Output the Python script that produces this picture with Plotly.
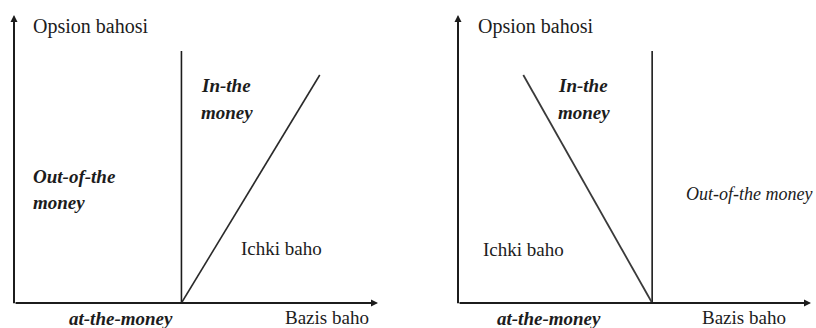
import plotly.graph_objects as go

# ---- data (conceptual units) ----
call_strike = 4.6
call_line_top = 4.2
call_S = [4.6, 8.4]
call_value = [0.0, 3.8]

put_strike = 5.5
put_line_top = 4.2
put_S = [1.85, 5.5]
put_value = [3.8, 0.0]

x_max = 10.0
y_max = 4.8

W, H = 816, 328
FONT = "Liberation Serif"
INK = "#1c1c1c"

def fx(px):
    return px / W

def fy(py):
    return 1 - py / H

fig = go.Figure()

# left panel (call)
fig.add_trace(go.Scatter(x=[call_strike, call_strike], y=[0, call_line_top], mode="lines",
                         line=dict(color=INK, width=1.6), xaxis="x", yaxis="y", hoverinfo="skip"))
fig.add_trace(go.Scatter(x=call_S, y=call_value, mode="lines",
                         line=dict(color="#2a2a2a", width=1.6), xaxis="x", yaxis="y", hoverinfo="skip"))
# right panel (put)
fig.add_trace(go.Scatter(x=[put_strike, put_strike], y=[0, put_line_top], mode="lines",
                         line=dict(color=INK, width=1.6), xaxis="x2", yaxis="y2", hoverinfo="skip"))
fig.add_trace(go.Scatter(x=put_S, y=put_value, mode="lines",
                         line=dict(color="#3a3a3a", width=1.8), xaxis="x2", yaxis="y2", hoverinfo="skip"))

ax_common = dict(showgrid=False, zeroline=False, showline=False, showticklabels=False, ticks="", fixedrange=True)

fig.update_layout(
    width=W, height=H,
    margin=dict(l=0, r=0, t=0, b=0),
    paper_bgcolor="white", plot_bgcolor="rgba(0,0,0,0)",
    showlegend=False,
    font=dict(family=FONT, color=INK),
    xaxis=dict(domain=[fx(14), fx(378)], range=[0, x_max], anchor="y", **ax_common),
    yaxis=dict(domain=[fy(303), fy(15)], range=[0, y_max], anchor="x", **ax_common),
    xaxis2=dict(domain=[fx(458), fx(811)], range=[0, x_max], anchor="y2", **ax_common),
    yaxis2=dict(domain=[fy(303), fy(15)], range=[0, y_max], anchor="x2", **ax_common),
)

anns = []
# axis arrows
for xr, yr in (("x", "y"), ("x2", "y2")):
    anns.append(dict(x=x_max, y=0, ax=0, ay=0, xref=xr, yref=yr, axref=xr, ayref=yr,
                     text="", showarrow=True, arrowhead=2, arrowsize=0.7, arrowwidth=2,
                     arrowcolor=INK, standoff=0, startstandoff=0))
    anns.append(dict(x=0, y=y_max, ax=0, ay=-0.03, xref=xr, yref=yr, axref=xr, ayref=yr,
                     text="", showarrow=True, arrowhead=2, arrowsize=0.7, arrowwidth=2,
                     arrowcolor=INK, standoff=0, startstandoff=0))

def label(text, x, y, size=19, bold=False, italic=False, xanchor="left"):
    t = text
    if italic:
        t = "<i>" + t + "</i>"
    if bold:
        t = "<b>" + t + "</b>"
    anns.append(dict(text=t, x=fx(x), y=fy(y), xref="paper", yref="paper",
                     xanchor=xanchor, yanchor="middle", showarrow=False,
                     font=dict(family=FONT, size=size, color=INK)))

# left panel texts
label("Opsion bahosi", 31, 27, size=20)
label("In-the", 199, 85, bold=True, italic=True)
label("money", 199, 112, bold=True, italic=True)
label("Out-of-the", 31, 176, bold=True, italic=True)
label("money", 31, 202, bold=True, italic=True)
label("Ichki baho", 239, 248)
label("at-the-money", 67, 318, bold=True, italic=True)
label("Bazis baho", 283, 317)

# right panel texts
label("Opsion bahosi", 476, 27, size=20)
label("In-the", 556, 85, bold=True, italic=True)
label("money", 556, 112, bold=True, italic=True)
label("Out-of-the money", 684, 194, size=18, italic=True)
label("Ichki baho", 481, 249)
label("at-the-money", 495, 318, bold=True, italic=True)
label("Bazis baho", 700, 317)

fig.update_layout(annotations=anns)
fig.write_html("out.html",
               config={"displayModeBar": False, "staticPlot": True},
               post_script="document.body.style.margin='0';document.body.style.padding='0';"
                           "document.body.style.overflow='hidden';")
